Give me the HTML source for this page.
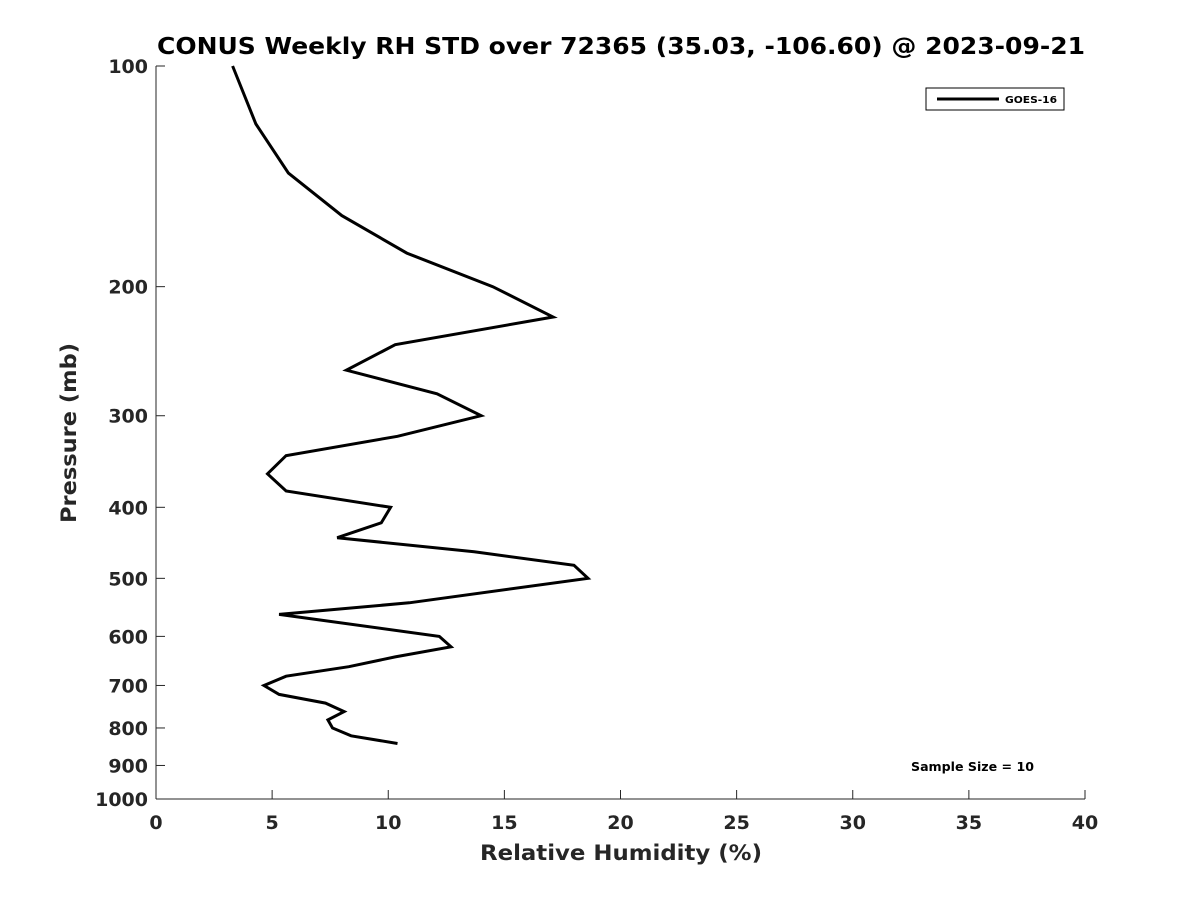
<!DOCTYPE html>
<html><head><meta charset="utf-8">
<style>
body{margin:0;background:#fff;}
svg text{font-family:"DejaVu Sans","Liberation Sans",sans-serif;font-weight:bold;fill:#262626;}
</style></head>
<body>
<svg id="chart" width="1200" height="900" xmlns="http://www.w3.org/2000/svg">
<rect width="1200" height="900" fill="#fff"/>
<text x="157" y="54" font-size="23" textLength="928" lengthAdjust="spacingAndGlyphs" style="fill:#000">CONUS Weekly RH STD over 72365 (35.03, -106.60) @ 2023-09-21</text>
<g id="axes"></g>
<g id="series"></g>
<text x="480" y="860" font-size="21" textLength="282" lengthAdjust="spacingAndGlyphs">Relative Humidity (%)</text>
<text transform="translate(76,523) rotate(-90)" font-size="21" textLength="180" lengthAdjust="spacingAndGlyphs">Pressure (mb)</text>
<g>
<rect x="926" y="88" width="138" height="22" fill="#fff" stroke="#000" stroke-width="1"/>
<line x1="937" y1="99" x2="999" y2="99" stroke="#000" stroke-width="3"/>
<text x="1005" y="103" font-size="10" textLength="52" lengthAdjust="spacingAndGlyphs" style="fill:#000">GOES-16</text>
</g>
<text x="911" y="771" font-size="12" textLength="123" lengthAdjust="spacingAndGlyphs" style="fill:#000">Sample Size = 10</text>
</svg>
<script>
const pressures=[100,120,140,160,180,200,220,240,260,280,300,320,340,360,380,400,420,440,460,480,500,540,560,600,620,640,660,680,700,720,740,760,780,800,820,840];
const rhStd=[3.3,4.3,5.7,8.0,10.8,14.5,17.1,10.3,8.2,12.1,14.0,10.4,5.6,4.8,5.6,10.1,9.7,7.8,13.7,18.0,18.6,10.9,5.3,12.2,12.7,10.3,8.3,5.6,4.65,5.3,7.3,8.1,7.4,7.6,8.4,10.4];
const xTicks=[0,5,10,15,20,25,30,35,40];
const yTicks=[100,200,300,400,500,600,700,800,900,1000];
const X0=156,X1=1085,Y0=66,Y1=799;
const xs=v=>X0+(v-0)/40*(X1-X0);
const ys=p=>Y0+(Math.log10(p)-2)*(Y1-Y0);
const NS="http://www.w3.org/2000/svg";
const axes=document.getElementById('axes');
function mk(tag,attrs,parent){const e=document.createElementNS(NS,tag);for(const k in attrs)e.setAttribute(k,attrs[k]);parent.appendChild(e);return e;}
const xl=mk('line',{x1:X0,y1:Y1,x2:X1,y2:Y1,stroke:'#262626','stroke-width':1},axes);


const yl=mk('line',{x1:X0,y1:Y0,x2:X0,y2:Y1,stroke:'#262626','stroke-width':1},axes);


xTicks.forEach(t=>{
  const x=xs(t);
  mk('line',{x1:x,y1:Y1,x2:x,y2:Y1-9,stroke:'#262626'},axes);
  const tx=mk('text',{x:x,y:Y1+30,'text-anchor':'middle','font-size':19},axes);
  tx.textContent=t;
  
  
});
yTicks.forEach(t=>{
  const y=ys(t);
  mk('line',{x1:X0,y1:y,x2:X0+9,y2:y,stroke:'#262626'},axes);
  const tx=mk('text',{x:X0-8,y:y+7,'text-anchor':'end','font-size':19},axes);
  tx.textContent=t;
  
  
});
const pts=pressures.map((p,i)=>xs(rhStd[i]).toFixed(1)+','+ys(p).toFixed(1)).join(' ');
const line=mk('polyline',{points:pts,fill:'none',stroke:'#000','stroke-width':3,'stroke-linejoin':'miter'},document.getElementById('series'));


</script>
</body></html>
